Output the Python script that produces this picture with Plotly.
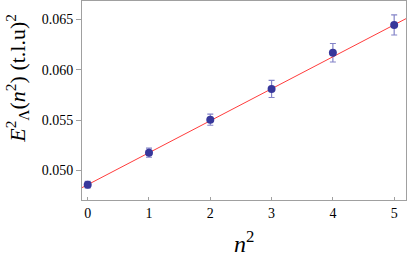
import plotly.graph_objects as go
import numpy as np

n2 = [0, 1, 2, 3, 4, 5]
energy = [0.04857, 0.05175, 0.05503, 0.05809, 0.06169, 0.06446]
err = [0.00033, 0.00045, 0.00055, 0.00085, 0.00092, 0.00100]
fit_intercept = 0.04857
fit_slope = 0.00318
x_ticks = [0, 1, 2, 3, 4, 5]
y_ticks = [0.050, 0.055, 0.060, 0.065]
y_ticklabels = ["0.050", "0.055", "0.060", "0.065"]

xr = [-0.093, 5.193]
yr = [0.047048, 0.066839]

fx = np.array(xr)
fy = fit_intercept + fit_slope * fx

fig = go.Figure()
fig.add_trace(go.Scatter(
    x=n2, y=energy, mode="markers",
    marker=dict(color="rgba(110,110,190,0.0)", size=1),
    error_y=dict(type="data", array=err, visible=True, color="rgba(90,90,180,0.75)",
                 thickness=1.2, width=3),
    showlegend=False, hoverinfo="skip"))
fig.add_trace(go.Scatter(
    x=fx, y=fy, mode="lines",
    line=dict(color="rgb(255,60,60)", width=1),
    showlegend=False))
fig.add_trace(go.Scatter(
    x=n2, y=energy, mode="markers",
    marker=dict(color="rgb(55,55,155)", size=8, line=dict(width=0)),
    showlegend=False))

font_serif = "Liberation Serif, Times New Roman, serif"
axcol = "rgb(160,160,160)"
fig.update_layout(
    width=407, height=256,
    margin=dict(l=82, r=1, t=1, b=56),
    paper_bgcolor="white", plot_bgcolor="white",
    font=dict(family=font_serif, size=14, color="black"),
    xaxis=dict(range=xr, tickvals=x_ticks, ticks="inside", ticklen=3, tickcolor=axcol,
               showgrid=False, zeroline=False, showline=True, linecolor=axcol, linewidth=1,
               mirror=True, tickfont=dict(family=font_serif, size=14)),
    yaxis=dict(range=yr, tickvals=y_ticks, ticktext=y_ticklabels, ticks="outside", ticklen=5,
               tickcolor=axcol, showgrid=False, zeroline=False, showline=True, linecolor=axcol,
               linewidth=1, mirror=True, tickfont=dict(family=font_serif, size=14)),
    annotations=[
        dict(text="<i>n</i><sup>2</sup>", xref="paper", yref="paper", x=0.5, y=-0.21,
             xanchor="center", yanchor="middle", showarrow=False,
             font=dict(family=font_serif, size=24)),
        dict(text="<i>E</i><sup>2</sup><sub>Λ</sub>(<i>n</i><sup>2</sup>) (t.l.u)<sup>2</sup>",
             xref="paper", yref="paper", x=-0.20, y=0.61, xanchor="center", yanchor="middle",
             textangle=-90, showarrow=False, font=dict(family=font_serif, size=22)),
    ],
)
fig.write_html("out.html", config={"displayModeBar": False},
               post_script="document.body.style.margin='0';document.body.style.padding='0';")
